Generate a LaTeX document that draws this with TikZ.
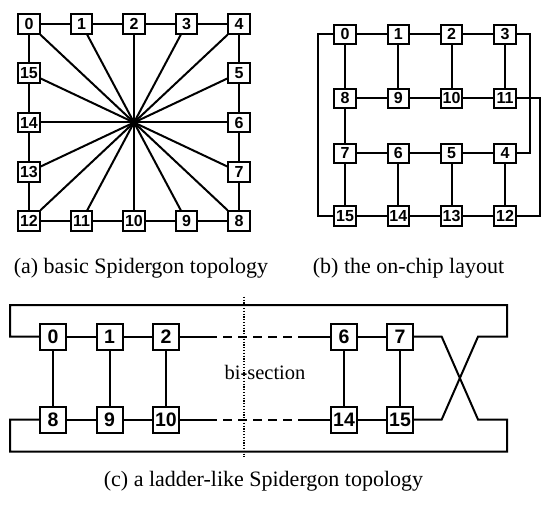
\documentclass[tikz,border=0pt]{standalone}
\usepackage{fontspec}
\setmainfont{Liberation Serif}
\newfontfamily\labfont{Liberation Sans}
\begin{document}
\begin{tikzpicture}[x=1pt,y=-1pt,
  router/.style={draw, line width=2pt, minimum width=21.5pt, minimum height=19.5pt,
    inner sep=0pt, font=\labfont\bfseries\fontsize{16}{16}\selectfont},
  bigrouter/.style={router, minimum width=26pt, minimum height=26pt,
    font=\labfont\bfseries\fontsize{19.5}{19.5}\selectfont},
  link/.style={line width=2pt},
  dashlink/.style={line width=2pt, dash pattern=on 9pt off 6pt},
  cutline/.style={line width=1.2pt, dash pattern=on 1.2pt off 1.6pt},
  captext/.style={font=\fontsize{22}{26}\selectfont, inner sep=0pt},
]
\useasboundingbox (0,0) rectangle (543,505);

% ---------------- (a) basic Spidergon ----------------
\foreach \i/\x/\y in {0/29/24, 1/81.5/24, 2/134/24, 3/186.5/24, 4/239/24,
                      5/239/73, 6/239/122.5, 7/239/172,
                      8/239/221, 9/186.5/221, 10/134/221, 11/81.5/221, 12/29/221,
                      13/29/172, 14/29/122.5, 15/29/73}
  \node[router] (a\i) at (\x,\y) {\i};
% ring links
\foreach \i [evaluate=\i as \j using {int(mod(\i+1,16))}] in {0,...,15}
  \draw[link] (a\i) -- (a\j);
% cross links through the centre
\foreach \i [evaluate=\i as \j using {int(\i+8)}] in {0,...,7}
  \draw[link] (a\i) -- (a\j);

% ---------------- (b) on-chip layout ----------------
\foreach \i/\x/\y in {0/345/34.3, 1/398.3/34.3, 2/451.6/34.3, 3/505/34.3,
                      8/345/98.3, 9/398.3/98.3, 10/451.6/98.3, 11/505/98.3,
                      7/345/153.3, 6/398.3/153.3, 5/451.6/153.3, 4/505/153.3,
                      15/345/216, 14/398.3/216, 13/451.6/216, 12/505/216}
  \node[router] (b\i) at (\x,\y) {\i};
\foreach \p/\q in {0/1, 1/2, 2/3, 4/5, 5/6, 6/7, 7/8, 8/9, 9/10, 10/11,
                   12/13, 13/14, 14/15,
                   0/8, 1/9, 2/10, 3/11, 4/12, 5/13, 6/14, 7/15}
  \draw[link] (b\p) -- (b\q);
\coordinate (busL) at (317.5,0);
\coordinate (busA) at (530,0);
\coordinate (busB) at (540,0);
\draw[link] (b3) -- (b3 -| busA) |- (b4);
\draw[link] (b11) -- (b11 -| busB) |- (b12);
\draw[link] (b0) -- (b0 -| busL) |- (b15);

\node[captext] (capa) at (141,268) {(a) basic Spidergon topology};
\node[captext] (capb) at (408.5,268) {(b) the on-chip layout};

% ---------------- (c) ladder-like Spidergon ----------------
\foreach \i/\x in {0/53, 1/109.5, 2/166, 6/344, 7/400}
  \node[bigrouter] (c\i) at (\x,336.7) {\i};
\foreach \i/\x in {8/53, 9/109.5, 10/166, 14/344, 15/400}
  \node[bigrouter] (c\i) at (\x,419.5) {\i};
\foreach \p/\q in {0/1, 1/2, 6/7, 8/9, 9/10, 14/15,
                   0/8, 1/9, 2/10, 6/14, 7/15}
  \draw[link] (c\p) -- (c\q);

% omitted middle part of the ladder
\coordinate (du1) at (208,336.7);
\coordinate (du2) at (300,336.7);
\coordinate (dd1) at (208,419.5);
\coordinate (dd2) at (300,419.5);
\draw[link] (c2) -- (du1);
\draw[dashlink] (du1) -- (du2);
\draw[link] (du2) -- (c6);
\draw[link] (c10) -- (dd1);
\draw[dashlink] (dd1) -- (dd2);
\draw[link] (dd2) -- (c14);

% wrap-around links 7-8 and 15-0
\coordinate (xUL) at (441.7,336.7);
\coordinate (xUR) at (478,336.7);
\coordinate (xDL) at (441.7,419.5);
\coordinate (xDR) at (478,419.5);
\coordinate (railT) at (0,305);
\coordinate (railB) at (0,451.7);
\coordinate (railL) at (10,0);
\coordinate (railR) at (507,0);
\draw[link] (c7) -- (xUL) -- (xDR) -- (xDR -| railR) -- (railB -| railR)
  -- (railB -| railL) -- (c8 -| railL) -- (c8);
\draw[link] (c15) -- (xDL) -- (xUR) -- (xUR -| railR) -- (railT -| railR)
  -- (railT -| railL) -- (c0 -| railL) -- (c0);

% bisection cut
\coordinate (cutT) at (244,296.7);
\coordinate (cutB) at (244,456.7);
\draw[cutline] (cutT) -- (cutB);
\node[font=\fontsize{20.5}{22}\selectfont, inner sep=0pt] (bis) at (265,372.7) {bi-section};

\node[captext] (capc) at (263.5,481.7) {(c) a ladder-like Spidergon topology};
\end{tikzpicture}
\end{document}
